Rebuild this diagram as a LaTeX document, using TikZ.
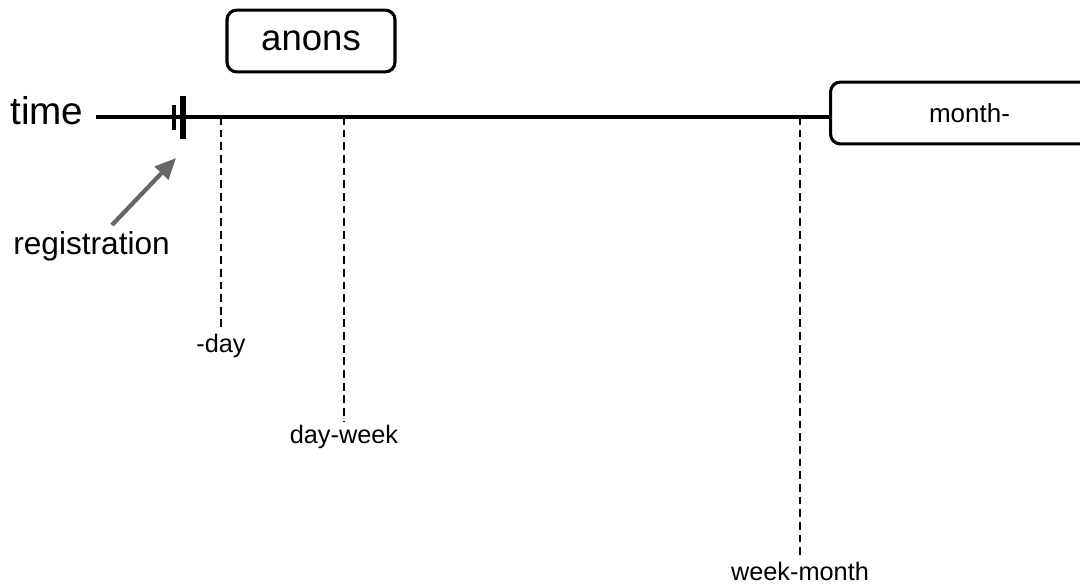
\documentclass[tikz,border=0pt]{standalone}
\usepackage{fontspec}
\setmainfont{Liberation Sans}
\usetikzlibrary{calc}
\usetikzlibrary{arrows.meta}
\definecolor{pointgray}{RGB}{102,102,102}
\tikzset{
  axis/.style={line width=2.2pt},
  period/.style={draw, line width=2.2pt, rounded corners=7pt, minimum height=44pt, inner sep=0pt},
  boundary/.style={anchor=north, inner sep=3pt, font=\fontsize{18}{21}\selectfont},
  boundline/.style={line width=1.1pt, dash pattern=on 5.5pt off 3.5pt},
  pointer/.style={draw=pointgray, line width=3pt, -{Triangle[length=15pt,width=13pt]}}
}
\begin{document}
\begin{tikzpicture}[x=0.025cm, y=-0.025cm]
        \clip (0,0) rectangle (1080,586);

        % labels on the left
        \node[anchor=base west, inner sep=0pt, font=\fontsize{27.5}{31}\selectfont] (time) at (10,124) {time};
        \node[anchor=base west, inner sep=0pt, font=\fontsize{22.5}{26}\selectfont] (registration) at (13,254) {registration};

        % periods
        \node[period, minimum width=119.5pt, font=\fontsize{26}{30}\selectfont] (anons) at (311,41) {anons};
        \node[period, minimum width=197.7pt, anchor=west, font=\fontsize{18.5}{22}\selectfont] (month) at (829,113) {month-};

        % time axis
        \coordinate (start) at (96,117);
        \draw[axis] (start) -- (start -| month.west);

        % registration mark
        \draw[line width=2.8pt] (174,105) -- (174,130);
        \draw[line width=4.3pt] (183,96) -- (183,139);
        \coordinate (regmark) at (176,158);
        \coordinate (regtail) at (112,225);
        \draw[pointer] (regtail) -- (regmark);

        % boundaries
        \coordinate (b1) at (221,117);
        \coordinate (b2) at (344,117);
        \coordinate (b3) at (800,117);
        \node[boundary] (day) at (221,330) {-day};
        \node[boundary] (dayweek) at (344,421) {day-week};
        \node[boundary] (weekmonth) at (800,558) {week-month};
        \draw[boundline] (b1) -- (day.north);
        \draw[boundline] (b2) -- (dayweek.north);
        \draw[boundline] (b3) -- (weekmonth.north);
    \end{tikzpicture}
\end{document}
